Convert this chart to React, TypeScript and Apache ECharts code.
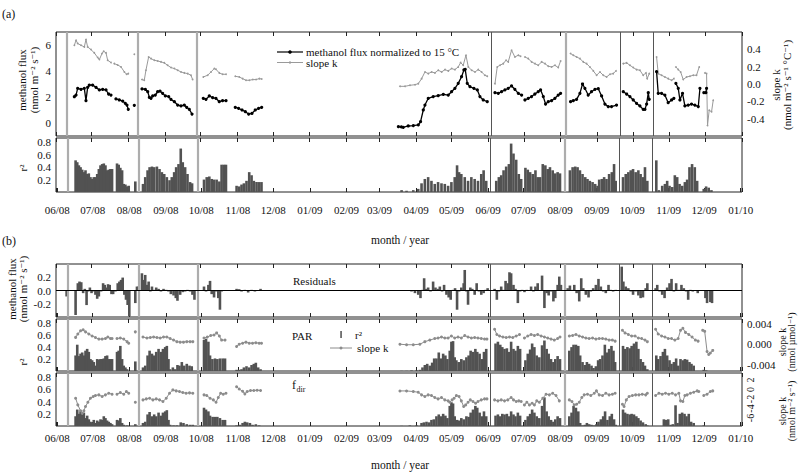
import React, { useEffect, useRef } from 'react';
import * as echarts from 'echarts';

const FONT = "'Liberation Serif', 'DejaVu Serif', serif";

// x tick labels (month / year)
const monthLabels = ['06/08', '07/08', '08/08', '09/08', '10/08', '11/08', '12/08', '01/09', '02/09', '03/09', '04/09', '05/09', '06/09', '07/09', '08/09', '09/09', '10/09', '11/09', '12/09', '01/10'];

// days since 2008-06-01 of the vertical separator lines, and whether they are dark/thin
const sepDays = [9, 69, 119, 367, 430, 476, 504];
const sepDark = [false, false, false, true, false, true, true];

// (a) methanol flux normalized to 15 °C, segments of [day, value]
const fluxSegs: number[][][] = [
  [[15.5, 2.02], [16.9, 2.15], [18.3, 2.67], [21.1, 2.59], [23.9, 2.67], [25.3, 1.72], [26.7, 2.74], [28.1, 2.92], [30.9, 2.92], [33.8, 2.74], [36.6, 2.54], [39.4, 2.59], [42.2, 2.54], [44.4, 2.23], [46.4, 2.15]],
  [[50.6, 1.85], [53.4, 1.77], [56.3, 1.69], [58.5, 1.51], [59.9, 1.38], [61.0, 1.05]],
  [[66.1, 1.36]],
  [[72.6, 2.62], [75.4, 2.59], [77.4, 2.41], [78.8, 1.97], [80.2, 1.9], [81.6, 2.08], [83.8, 2.15], [85.8, 2.41], [87.8, 2.46], [90.0, 2.28], [92.3, 2.08], [95.1, 2.03], [97.0, 1.82], [99.9, 1.64], [102.7, 1.38], [105.5, 1.31], [108.3, 1.38], [110.3, 1.21], [112.5, 1.05], [114.8, 0.69]],
  [[124.3, 1.9], [126.6, 1.82], [129.4, 2.08], [132.2, 1.95], [135.0, 1.9], [137.8, 1.64], [140.6, 1.72], [143.5, 1.72]],
  [[151.3, 1.21], [154.1, 1.13], [157.0, 1.0], [159.8, 0.87], [162.6, 0.69], [165.4, 0.74], [168.2, 1.0], [171.0, 1.13], [173.6, 1.21]],
  [[289.0, -0.28], [291.5, -0.3], [293.1, -0.33], [297.3, -0.23], [301.6, -0.2], [305.8, -0.15], [307.7, 0.1], [310.0, 1.0], [311.4, 1.38], [314.2, 1.9], [318.4, 2.03], [322.6, 2.1], [326.9, 2.21], [331.1, 2.15], [333.9, 2.41], [336.7, 2.67], [339.5, 3.05], [342.3, 3.56], [344.3, 4.08], [345.4, 4.13], [347.1, 3.05], [349.4, 2.79], [352.7, 2.67], [355.6, 2.54], [357.8, 2.03], [360.6, 1.77], [364.0, 1.64]],
  [[370.5, 2.33], [373.3, 2.28], [376.1, 2.41], [378.9, 2.54], [381.7, 2.67], [384.5, 2.85], [387.3, 2.59], [390.2, 2.28], [393.0, 2.15]],
  [[395.8, 1.77], [398.6, 1.9], [401.4, 2.03], [404.2, 2.23], [407.0, 2.41], [409.0, 2.54], [411.3, 2.03], [413.2, 1.46], [415.5, 1.64], [418.3, 1.72], [421.1, 1.9], [423.9, 2.15], [425.9, 2.28]],
  [[434.3, 1.64], [436.6, 1.72], [439.4, 1.82], [442.2, 2.28], [444.4, 3.0], [446.4, 2.67], [449.2, 2.15], [452.0, 2.41], [454.9, 2.59], [457.7, 2.64], [460.5, 2.08], [463.3, 1.46], [466.1, 1.26], [468.9, 1.26], [473.1, 1.38]],
  [[478.8, 2.41], [481.6, 2.23], [484.4, 2.03], [487.2, 1.77], [490.0, 1.51], [492.8, 1.31], [495.6, 1.05], [497.1, 1.05], [498.5, 1.46], [499.9, 2.33], [500.7, 1.82]],
  [[506.9, 3.95], [508.3, 2.28], [511.1, 2.28], [513.9, 2.15], [516.7, 1.56], [519.6, 1.77], [521.5, 1.9]],
  [[523.2, 3.05], [525.2, 2.67], [526.6, 1.77], [528.8, 2.28], [530.8, 1.31], [533.6, 1.38], [536.4, 1.46], [539.2, 1.38], [542.1, 1.26], [543.5, 2.67]],
  [[546.8, 2.33], [548.5, 2.33], [549.1, 2.67]],
];

// (a) slope k (nmol m-2 s-1 °C-1)
const slopeSegs: number[][][] = [
  [[15.5, 0.447], [16.9, 0.505], [18.3, 0.467], [21.1, 0.447], [23.9, 0.428], [25.3, 0.513], [26.7, 0.428], [29.5, 0.397], [32.3, 0.359], [35.2, 0.305], [36.6, 0.282], [38.8, 0.351], [40.2, 0.378], [42.2, 0.359], [43.6, 0.274], [46.4, 0.247]],
  [[49.2, 0.235], [52.0, 0.22], [54.9, 0.197], [57.7, 0.139], [59.6, 0.112], [61.0, 0.12]],
  [[66.1, 0.343]],
  [[72.6, 0.051], [74.5, 0.043], [75.9, 0.159], [78.2, 0.312], [80.2, 0.293], [83.0, 0.274], [85.8, 0.266], [88.6, 0.255], [91.4, 0.244], [94.2, 0.216], [97.0, 0.19], [99.9, 0.178], [102.7, 0.159], [105.5, 0.139], [108.3, 0.128], [111.1, 0.12], [113.9, 0.101], [115.3, 0.051]],
  [[124.3, 0.081], [128.0, 0.101], [130.8, 0.139], [133.6, 0.178], [135.0, 0.17], [137.8, 0.128], [140.6, 0.112], [143.5, 0.112]],
  [[151.3, 0.089], [154.7, 0.081], [157.5, 0.062], [160.3, 0.043], [163.2, 0.043], [166.0, 0.051], [168.8, 0.051], [171.6, 0.062], [173.6, 0.058]],
  [[290.3, -0.027], [294.5, -0.027], [298.7, -0.015], [303.0, -0.008], [305.8, 0.004], [308.6, 0.062], [311.4, 0.139], [314.2, 0.12], [317.0, 0.139], [319.8, 0.128], [322.6, 0.159], [325.5, 0.139], [328.3, 0.166], [331.1, 0.151], [333.9, 0.178], [336.7, 0.166], [339.5, 0.197], [341.5, 0.247], [343.7, 0.216], [346.0, 0.332], [348.0, 0.197], [350.8, 0.159], [353.6, 0.139], [356.4, 0.166], [359.2, 0.139], [362.0, 0.101], [364.0, 0.089]],
  [[370.5, 0.004], [372.4, 0.197], [374.7, 0.216], [377.5, 0.235], [379.8, 0.274], [381.7, 0.255], [384.5, 0.39], [387.3, 0.312], [390.2, 0.332], [392.1, 0.32]],
  [[395.8, 0.312], [398.6, 0.293], [401.4, 0.255], [404.2, 0.235], [407.0, 0.216], [409.9, 0.255], [412.7, 0.235], [415.5, 0.205], [418.3, 0.197], [421.1, 0.216], [423.9, 0.19], [425.9, 0.266]],
  [[434.3, 0.351], [436.6, 0.332], [439.4, 0.312], [442.2, 0.293], [445.0, 0.255], [447.8, 0.235], [450.6, 0.197], [453.5, 0.151], [456.3, 0.101], [459.1, 0.139], [461.9, 0.101], [464.7, 0.081], [467.5, 0.112], [470.3, 0.12], [472.6, 0.151]],
  [[478.8, 0.235], [481.6, 0.244], [484.4, 0.216], [487.2, 0.19], [490.0, 0.166], [492.8, 0.159], [495.6, 0.101], [497.9, 0.128], [499.0, 0.062], [500.7, 0.12]],
  [[506.9, 0.312], [508.3, 0.12], [511.1, 0.101], [513.9, 0.081], [516.7, 0.062], [519.6, 0.043], [521.5, 0.062]],
  [[523.2, 0.197], [525.2, 0.166], [527.2, 0.139], [529.4, 0.051], [532.2, 0.081], [535.0, 0.089], [537.8, 0.101], [540.6, 0.101], [542.9, 0.197]],
  [[547.7, 0.128], [549.1, 0.12], [549.9, -0.478], [551.3, -0.303], [553.3, -0.32], [554.7, -0.188]],
];

// (a) r² of the temperature fit
const r2Temp: number[][] = [
  [15.5, 0.51], [16.9, 0.48], [18.3, 0.43], [19.7, 0.40], [21.1, 0.36], [22.5, 0.32], [23.9, 0.35], [25.3, 0.29], [26.7, 0.30], [28.1, 0.24], [29.5, 0.21], [30.9, 0.24], [32.3, 0.24], [33.8, 0.29], [35.2, 0.37], [36.6, 0.43], [38.0, 0.45], [39.4, 0.46], [40.8, 0.43], [42.2, 0.35], [43.6, 0.36], [45.0, 0.37], [46.4, 0.37], [50.6, 0.46], [52.0, 0.44], [53.4, 0.39], [54.9, 0.35], [56.3, 0.13], [57.7, 0.12], [59.1, 0.09], [60.5, 0.1], [66.1, 0.17],
  [72.6, 0.13], [74.5, 0.24], [76.5, 0.35], [78.2, 0.40], [80.2, 0.41], [82.1, 0.40], [84.4, 0.41], [86.6, 0.37], [88.6, 0.32], [90.6, 0.29], [92.8, 0.24], [95.1, 0.19], [97.0, 0.24], [99.0, 0.32], [100.7, 0.40], [102.7, 0.45], [104.6, 0.70], [106.3, 0.48], [108.3, 0.40], [110.3, 0.29], [112.5, 0.16], [114.2, 0.14],
  [124.3, 0.2], [126.6, 0.24], [128.8, 0.25], [130.8, 0.21], [132.8, 0.2], [135.0, 0.2], [137.3, 0.17], [139.2, 0.44], [141.2, 0.44], [142.9, 0.44],
  [151.9, 0.1], [154.1, 0.09], [156.1, 0.12], [158.1, 0.14], [160.3, 0.18], [162.6, 0.32], [164.6, 0.27], [166.5, 0.18], [168.8, 0.16], [171.0, 0.16], [173.0, 0.16],
  [291.7, 0.03], [295.9, 0.02], [301.6, 0.03], [305.8, 0.05], [308.6, 0.14], [311.4, 0.21], [314.2, 0.24], [317.0, 0.18], [319.8, 0.13], [322.6, 0.16], [325.5, 0.14], [328.3, 0.13], [331.1, 0.1], [333.9, 0.16], [336.7, 0.24], [338.7, 0.43], [340.4, 0.32], [342.3, 0.29], [345.2, 0.24], [348.0, 0.18], [350.8, 0.24], [353.6, 0.21], [356.4, 0.18], [359.2, 0.29], [361.2, 0.35], [363.4, 0.18],
  [371.9, 0.18], [374.1, 0.24], [376.1, 0.27], [378.1, 0.35], [380.3, 0.41], [382.6, 0.45], [384.5, 0.78], [386.5, 0.62], [388.8, 0.52], [391.0, 0.29], [393.0, 0.21],
  [396.6, 0.39], [398.6, 0.36], [400.6, 0.32], [402.8, 0.29], [405.1, 0.35], [407.0, 0.24], [409.0, 0.24], [411.3, 0.45], [413.5, 0.43], [415.5, 0.37], [417.4, 0.40], [419.7, 0.35], [421.9, 0.30], [423.9, 0.32], [425.9, 0.30],
  [434.3, 0.35], [436.6, 0.40], [438.8, 0.41], [440.8, 0.40], [442.8, 0.35], [445.0, 0.29], [447.3, 0.24], [449.2, 0.21], [451.2, 0.18], [453.5, 0.16], [455.7, 0.13], [457.7, 0.1], [459.1, 0.2], [461.3, 0.21], [463.3, 0.24], [465.3, 0.21], [467.5, 0.29], [469.8, 0.32], [471.7, 0.45], [473.1, 0.18],
  [479.3, 0.24], [481.6, 0.29], [483.8, 0.32], [485.8, 0.35], [487.8, 0.37], [490.0, 0.32], [492.3, 0.35], [494.2, 0.29], [496.2, 0.24], [497.9, 0.40], [499.9, 0.18],
  [507.5, 0.51], [509.7, 0.03], [512.5, 0.1], [514.8, 0.13], [516.7, 0.18], [518.7, 0.1], [521.0, 0.08], [523.2, 0.27], [525.2, 0.24], [527.2, 0.13], [529.4, 0.1], [531.7, 0.16], [533.6, 0.2], [535.6, 0.40], [537.8, 0.45], [540.1, 0.40], [542.1, 0.18], [547.7, 0.05], [549.7, 0.09], [551.9, 0.07], [554.2, 0.03],
];

// (b) residuals
const residuals: number[][] = [
  [7.9, -0.09],
  [15.5, -0.37], [17.4, 0.11], [18.8, 0.135], [20.3, 0.125], [21.9, -0.04], [23.3, 0.025], [24.8, -0.22], [26.2, -0.015], [27.6, 0.045], [29.0, -0.04], [30.4, -0.015], [32.3, -0.065], [33.8, -0.125], [35.2, -0.09], [37.1, -0.015], [38.8, 0.11], [40.2, 0.085], [41.6, 0.045], [43.0, 0.095], [44.4, 0.085], [45.9, -0.055], [47.3, -0.055], [49.2, -0.015], [51.2, 0.11], [52.6, 0.135], [54.0, 0.16], [55.4, 0.195], [56.8, -0.065], [58.2, -0.14], [59.6, -0.22], [61.0, -0.39], [66.1, -0.19],
  [67.5, 0.06], [68.9, 0.06],
  [71.7, 0.26], [73.1, 0.16], [74.5, 0.235], [75.9, 0.085], [77.4, 0.135], [78.8, -0.015], [80.2, 0.06], [81.6, 0.01], [83.8, 0.045], [85.8, 0.025], [87.8, -0.015], [90.0, 0.025], [92.3, 0.01], [94.2, -0.015], [96.2, -0.055], [98.5, -0.075], [100.4, -0.115], [101.8, -0.155], [104.1, -0.065], [106.3, -0.025], [108.3, -0.015], [110.3, 0.01], [112.5, -0.015], [114.5, -0.065], [116.2, -0.14],
  [124.3, 0.06], [126.0, -0.015], [128.0, 0.085], [129.4, 0.145], [130.8, -0.055], [132.8, -0.105], [134.5, -0.015], [136.4, -0.115], [137.8, -0.29], [139.2, -0.015], [140.6, 0.005], [143.5, 0.005],
  [151.9, 0.025], [154.1, 0.02], [156.1, -0.015], [158.9, 0.01], [161.7, -0.03], [164.6, 0.01], [167.4, -0.015], [170.2, 0.005], [172.2, 0.025],
  [291.7, 0.005], [295.9, 0.005], [300.1, -0.015], [303.0, -0.04], [305.8, -0.065], [307.7, -0.115], [309.4, 0.01], [310.8, 0.185], [312.2, 0.025], [314.2, 0.045], [316.2, -0.015], [318.4, 0.135], [320.4, 0.045], [322.4, 0.025], [324.1, 0.06], [326.0, -0.015], [327.7, 0.085], [329.7, -0.065], [331.6, -0.105], [333.3, -0.14], [335.3, 0.01], [337.0, 0.035], [338.7, -0.29], [340.4, -0.015], [342.3, 0.045], [344.3, 0.11], [345.2, 0.31], [346.6, -0.015], [348.0, -0.215], [349.9, 0.045], [351.6, 0.025], [353.6, -0.065], [355.3, 0.11], [357.2, -0.015], [359.2, -0.065], [361.2, -0.04], [362.9, 0.01], [364.6, 0.035],
  [370.5, 0.025], [372.4, -0.14], [374.1, -0.015], [376.1, 0.06], [378.1, 0.01], [379.8, 0.145], [381.7, 0.11], [383.1, 0.275], [384.5, 0.26], [386.5, 0.085], [388.2, 0.025], [390.2, -0.19], [392.1, -0.015], [393.8, 0.01], [395.8, -0.025], [397.8, 0.01], [399.4, -0.005], [401.4, 0.06], [403.4, -0.015], [405.1, 0.06], [407.0, 0.11], [409.0, -0.005], [410.7, 0.225], [412.7, -0.265], [414.6, -0.04], [416.3, -0.075], [418.3, -0.015], [420.3, -0.165], [421.9, -0.115], [423.9, 0.085], [425.3, 0.21], [426.7, 0.085],
  [432.4, 0.035], [434.3, 0.075], [436.0, 0.01], [438.0, 0.085], [440.0, -0.04], [442.2, -0.165], [443.9, 0.185], [445.6, 0.035], [447.8, -0.065], [450.1, -0.105], [452.0, -0.015], [454.0, 0.035], [456.3, 0.085], [458.5, 0.175], [460.5, 0.06], [462.5, -0.015], [464.7, -0.04], [467.0, 0.085], [468.9, 0.01], [470.9, -0.015], [473.1, 0.01],
  [478.2, 0.36], [479.6, 0.135], [481.6, 0.06], [483.8, 0.035], [485.8, -0.015], [487.8, -0.065], [490.0, -0.015], [492.3, -0.075], [494.2, -0.115], [496.2, -0.105], [498.5, 0.035], [499.9, 0.11],
  [506.9, 0.035], [508.3, 0.085], [510.3, -0.015], [512.5, -0.065], [514.5, -0.115], [516.7, 0.045], [518.7, 0.11], [520.4, 0.175], [522.4, -0.015], [524.3, 0.11], [526.6, 0.01], [528.8, 0.085], [530.8, 0.035], [532.8, -0.015], [534.5, -0.14], [536.4, 0.01], [538.4, -0.015], [540.6, -0.005], [542.6, -0.04], [549.1, -0.115], [550.5, -0.19], [553.3, -0.175], [554.7, -0.19],
];

// (b) r² for PAR
const r2Par: number[][] = [
  [15.5, 0.26], [16.9, 0.44], [18.3, 0.25], [19.7, 0.29], [21.1, 0.31], [22.5, 0.26], [23.9, 0.34], [25.3, 0.37], [26.7, 0.32], [28.1, 0.2], [29.5, 0.18], [30.9, 0.15], [32.3, 0.09], [33.8, 0.2], [35.2, 0.19], [36.6, 0.2], [38.0, 0.2], [39.4, 0.21], [40.8, 0.25], [42.2, 0.26], [43.6, 0.2], [45.0, 0.2], [46.4, 0.2], [50.6, 0.32], [52.0, 0.34], [53.4, 0.42], [54.9, 0.2], [56.3, 0.09], [57.7, 0.06], [59.1, 0.03], [66.1, 0.16],
  [72.6, 0.06], [74.5, 0.09], [76.5, 0.26], [78.2, 0.34], [80.2, 0.29], [82.1, 0.26], [83.8, 0.32], [85.8, 0.37], [87.8, 0.32], [89.5, 0.37], [91.4, 0.40], [92.8, 0.42], [94.2, 0.2], [95.6, 0.03], [97.9, 0.06], [99.9, 0.03], [101.8, 0.1], [103.5, 0.09], [105.5, 0.15], [107.5, 0.09], [109.7, 0.12], [112.0, 0.09], [113.9, 0.08],
  [124.3, 0.52], [126.0, 0.54], [128.0, 0.49], [129.4, 0.26], [131.4, 0.2], [133.6, 0.21], [135.6, 0.2], [137.8, 0.21], [140.1, 0.21], [142.1, 0.21],
  [151.9, 0.02], [154.1, 0.02], [156.1, 0.03], [158.1, 0.06], [160.3, 0.08], [162.6, 0.06], [164.6, 0.1], [166.5, 0.12], [168.2, 0.14], [170.2, 0.06], [172.2, 0.03],
  [291.7, 0.003], [295.9, 0.003], [300.1, 0.01], [304.4, 0.01], [307.2, 0.02], [309.4, 0.06], [311.4, 0.1], [313.4, 0.12], [315.6, 0.09], [317.6, 0.14], [319.3, 0.21], [321.2, 0.21], [323.2, 0.31], [324.9, 0.21], [326.9, 0.29], [328.8, 0.26], [330.5, 0.2], [332.5, 0.34], [333.9, 0.49], [335.3, 0.50], [336.7, 0.23], [338.1, 0.18], [340.1, 0.15], [342.3, 0.2], [344.3, 0.18], [346.6, 0.23], [348.5, 0.26], [350.2, 0.34], [352.2, 0.32], [354.2, 0.37], [355.8, 0.32], [357.8, 0.29], [359.8, 0.2], [361.5, 0.32], [363.4, 0.37],
  [371.3, 0.46], [373.3, 0.49], [375.3, 0.44], [377.0, 0.40], [378.9, 0.37], [380.9, 0.38], [382.6, 0.32], [384.5, 0.49], [386.5, 0.37], [388.2, 0.34], [390.2, 0.42], [392.1, 0.37],
  [396.6, 0.18], [398.6, 0.29], [400.6, 0.36], [402.3, 0.46], [404.2, 0.40], [406.2, 0.26], [408.4, 0.23], [410.7, 0.43], [412.7, 0.51], [414.6, 0.37], [416.3, 0.29], [418.3, 0.2], [420.3, 0.15], [421.9, 0.2], [423.9, 0.25], [425.9, 0.2],
  [433.8, 0.34], [435.7, 0.40], [437.4, 0.44], [439.4, 0.44], [441.4, 0.42], [443.0, 0.26], [445.0, 0.15], [447.0, 0.1], [448.7, 0.15], [450.6, 0.12], [452.6, 0.09], [454.3, 0.05], [456.3, 0.08], [458.2, 0.18], [459.9, 0.2], [461.9, 0.26], [463.9, 0.44], [465.6, 0.31], [467.5, 0.37], [469.5, 0.42], [471.2, 0.34], [472.6, 0.15],
  [479.3, 0.42], [481.0, 0.37], [483.0, 0.40], [485.0, 0.38], [486.6, 0.42], [488.6, 0.46], [490.6, 0.49], [492.3, 0.37], [494.2, 0.2], [496.2, 0.15], [497.9, 0.09], [499.9, 0.03],
  [507.5, 0.26], [509.1, 0.2], [511.1, 0.25], [513.1, 0.32], [514.8, 0.37], [516.7, 0.26], [518.7, 0.18], [520.4, 0.12], [522.4, 0.15], [524.3, 0.21], [526.0, 0.09], [528.0, 0.2], [530.0, 0.18], [531.7, 0.2], [533.6, 0.19], [535.6, 0.15], [537.3, 0.12], [539.2, 0.09], [547.7, 0.02], [549.7, 0.01],
];

// (b) slope k for PAR (nmol µmol-1)
const slopePar: number[][][] = [
  [[15.5, 0.00133], [17.4, 0.002], [19.7, 0.0026], [21.9, 0.0028], [23.9, 0.0024], [26.7, 0.002], [29.5, 0.0016], [32.3, 0.0013], [35.2, 0.001], [38.0, 0.001], [40.8, 0.0011], [42.8, 0.0014], [45.0, 0.0011], [46.4, 0.0011]],
  [[50.6, 0.0011], [53.4, 0.0012], [56.3, 0.001], [59.1, 0.0005], [60.5, 0.0002]],
  [[66.1, 0.0024]],
  [[72.6, 0.0014], [75.9, 0.0012], [78.8, 0.0013], [81.6, 0.0014], [84.4, 0.0013], [87.2, 0.0012], [90.0, 0.0014], [92.8, 0.0014], [95.6, 0.0011], [98.5, 0.0008], [101.3, 0.0005], [104.1, 0.0004], [106.9, 0.0004], [109.7, 0.0005], [112.5, 0.0005], [114.8, 0.0005]],
  [[124.3, 0.0012], [127.1, 0.0014], [130.0, 0.0017], [132.8, 0.0018], [135.0, 0.0022], [137.3, 0.0016], [139.2, 0.0008], [142.1, 0.0008]],
  [[151.9, -0.00044], [154.1, 0.0], [157.0, 0.0002], [159.8, 0.0004], [162.6, 0.0002], [165.4, 0.0002], [168.2, 0.0003], [171.0, 0.0002], [173.0, 0.0002]],
  [[290.3, 0.0], [295.9, -0.0001], [301.6, -0.0001], [307.2, 0.0], [311.4, 0.0005], [315.6, 0.0008], [319.8, 0.0011], [322.6, 0.0012], [325.5, 0.0014], [328.3, 0.0012], [331.1, 0.0012], [333.9, 0.0016], [336.7, 0.0012], [339.5, 0.0014], [342.3, 0.0012], [345.2, 0.0017], [348.0, 0.0014], [350.8, 0.0012], [353.6, 0.0013], [356.4, 0.0012], [359.2, 0.0011], [362.0, 0.001], [364.0, 0.001]],
  [[370.5, 0.0029], [372.4, 0.0019], [374.7, 0.0016], [377.5, 0.0014], [380.3, 0.0013], [383.1, 0.0014], [385.9, 0.0013], [388.8, 0.0016], [391.6, 0.0019]],
  [[395.8, 0.0012], [398.6, 0.0016], [401.4, 0.0019], [404.2, 0.0017], [407.0, 0.0019], [409.9, 0.0016], [412.7, 0.0014], [415.5, 0.0012], [418.3, 0.001], [421.1, 0.0008], [423.9, 0.0011], [425.9, 0.0014]],
  [[433.8, 0.0016], [436.6, 0.0017], [439.4, 0.0019], [442.2, 0.0016], [445.0, 0.0014], [447.8, 0.0012], [450.6, 0.0011], [453.5, 0.0012], [456.3, 0.001], [459.1, 0.0011], [461.9, 0.0011], [464.7, 0.001], [467.5, 0.0008], [470.3, 0.0008], [472.6, 0.0006]],
  [[478.8, 0.0027], [481.0, 0.0022], [483.8, 0.0019], [486.6, 0.0016], [489.5, 0.0016], [492.3, 0.0012], [495.1, 0.0011], [497.9, 0.0008], [499.9, 0.0005]],
  [[506.9, 0.0029], [509.1, 0.002], [512.0, 0.0016], [514.8, 0.0014], [517.6, 0.0011], [520.4, 0.0011], [523.2, 0.0008], [526.0, 0.0011], [528.0, 0.0027], [530.0, 0.0031], [532.2, 0.0023], [535.0, 0.0019], [537.8, 0.0014], [540.6, 0.0008], [542.9, 0.0006]],
  [[546.8, 0.0027], [548.5, 0.0025], [550.5, -0.0014], [551.9, -0.002], [553.3, -0.0017], [555.3, -0.0012]],
];

// (b) r² for f_dir
const r2Fdir: number[][] = [
  [15.5, 0.16], [16.9, 0.27], [18.3, 0.2], [19.7, 0.24], [21.1, 0.19], [22.5, 0.22], [23.9, 0.13], [25.3, 0.17], [26.7, 0.11], [28.1, 0.07], [29.5, 0.06], [30.9, 0.1], [32.3, 0.05], [33.8, 0.09], [35.2, 0.07], [36.6, 0.11], [38.0, 0.1], [39.4, 0.16], [40.8, 0.13], [42.2, 0.09], [43.6, 0.07], [45.0, 0.05], [46.4, 0.03], [50.6, 0.1], [52.0, 0.09], [53.4, 0.13], [54.9, 0.05], [56.3, 0.02], [59.1, 0.01], [66.1, 0.03],
  [72.6, 0.05], [74.5, 0.07], [76.5, 0.19], [78.2, 0.23], [80.2, 0.16], [82.1, 0.19], [83.8, 0.16], [85.8, 0.22], [87.8, 0.17], [89.5, 0.22], [91.4, 0.24], [92.8, 0.26], [94.2, 0.1], [95.6, 0.02], [98.5, 0.01], [101.3, 0.01], [104.6, 0.06], [106.9, 0.05], [109.7, 0.03], [112.5, 0.02], [114.8, 0.02],
  [124.3, 0.3], [126.0, 0.27], [128.0, 0.24], [129.4, 0.17], [131.6, 0.15], [133.6, 0.15], [135.6, 0.15], [137.8, 0.13], [140.1, 0.1], [142.1, 0.1],
  [151.9, 0.01], [154.7, 0.02], [157.0, 0.05], [158.9, 0.07], [160.9, 0.06], [163.2, 0.05], [165.4, 0.02], [168.2, 0.03], [171.0, 0.01],
  [291.7, 0.003], [298.7, 0.01], [304.4, 0.01], [308.6, 0.05], [310.6, 0.06], [312.8, 0.07], [315.0, 0.06], [317.0, 0.1], [319.0, 0.11], [321.2, 0.16], [323.2, 0.19], [324.9, 0.16], [326.9, 0.2], [328.8, 0.17], [330.5, 0.13], [332.5, 0.33], [333.9, 0.39], [335.3, 0.37], [336.7, 0.16], [338.7, 0.1], [340.4, 0.09], [342.3, 0.13], [344.3, 0.11], [346.6, 0.16], [348.5, 0.15], [350.2, 0.22], [352.2, 0.27], [354.2, 0.33], [355.8, 0.3], [357.8, 0.22], [359.8, 0.16], [361.5, 0.24], [363.4, 0.16],
  [371.3, 0.17], [373.3, 0.19], [375.3, 0.16], [377.0, 0.2], [378.9, 0.19], [380.9, 0.2], [382.6, 0.16], [384.5, 0.24], [386.5, 0.19], [388.2, 0.16], [390.2, 0.22], [392.1, 0.17],
  [396.6, 0.1], [398.6, 0.16], [400.6, 0.2], [402.3, 0.27], [404.2, 0.22], [406.2, 0.16], [408.4, 0.13], [410.7, 0.33], [412.7, 0.47], [414.6, 0.24], [416.3, 0.16], [418.3, 0.1], [420.3, 0.07], [421.9, 0.11], [423.9, 0.16], [425.9, 0.13],
  [433.8, 0.16], [435.7, 0.22], [437.4, 0.33], [439.4, 0.3], [441.4, 0.24], [443.0, 0.05], [445.0, 0.01], [447.0, 0.02], [448.7, 0.05], [450.6, 0.03], [452.6, 0.02], [454.9, 0.01], [456.8, 0.03], [458.5, 0.07], [460.5, 0.11], [462.5, 0.16], [464.1, 0.24], [466.1, 0.1], [468.1, 0.16], [469.8, 0.2], [471.7, 0.11], [473.1, 0.02],
  [479.3, 0.27], [481.0, 0.22], [483.0, 0.2], [485.0, 0.19], [486.6, 0.2], [488.6, 0.19], [490.6, 0.16], [492.3, 0.13], [494.2, 0.09], [496.2, 0.06], [498.5, 0.03], [499.9, 0.01],
  [513.9, 0.11], [515.9, 0.1], [517.6, 0.11], [519.6, 0.02], [521.5, 0.03], [523.8, 0.34], [525.5, 0.05], [527.4, 0.2], [529.4, 0.22], [531.4, 0.2], [533.1, 0.16], [535.0, 0.2], [537.0, 0.07], [539.2, 0.05], [547.7, 0.01],
];

// (b) slope k for f_dir (nmol m-2 s-1)
const slopeFdir: number[][][] = [
  [[15.5, -1.83], [17.4, -3.24], [19.7, -4.5], [21.1, -5.0], [22.5, -4.5], [23.9, -3.59], [25.9, -2.67], [28.1, -1.83], [30.4, -1.48], [32.3, -1.26], [35.2, -1.12], [38.0, -1.48], [40.8, -1.12], [43.6, -0.77], [46.4, -0.98]],
  [[50.6, -0.98], [53.4, -0.63], [56.3, -0.98], [58.5, -0.42], [60.5, -0.77]],
  [[66.1, -2.67]],
  [[72.6, -2.18], [75.4, -1.97], [78.2, -1.83], [81.0, -2.18], [83.8, -1.97], [86.6, -2.18], [89.5, -2.53], [92.3, -1.83], [95.1, -0.77], [97.9, -0.07], [100.7, -0.28], [103.5, -0.42], [106.3, -0.63], [109.1, -0.77], [112.0, -0.7], [114.8, -0.77]],
  [[124.3, -1.12], [126.6, -1.26], [129.4, -1.83], [132.2, -2.18], [134.5, -2.67], [136.4, -1.68], [138.4, -0.77], [140.6, -0.98], [142.9, -0.77]],
  [[151.9, 0.61], [154.1, 0.12], [157.0, -0.35], [158.9, -0.91], [160.9, -0.42], [163.7, -0.21], [166.5, -0.21], [169.3, -0.14], [172.2, -0.21]],
  [[290.3, -0.29], [295.9, -0.29], [301.6, -0.42], [305.8, -0.56], [308.6, -1.12], [311.4, -1.47], [314.2, -1.12], [317.0, -1.26], [319.8, -1.68], [322.6, -1.97], [325.5, -1.68], [328.3, -2.18], [331.1, -2.39], [332.5, -2.67], [334.5, -2.18], [336.2, -1.83], [338.1, -1.26], [340.4, -1.47], [342.3, -2.39], [344.3, -3.59], [346.0, -3.24], [348.0, -2.67], [349.9, -2.18], [352.2, -2.53], [354.4, -2.88], [356.4, -2.53], [359.2, -2.18], [362.0, -1.97], [364.0, -1.97]],
  [[370.5, -2.18], [373.3, -2.39], [376.1, -2.18], [378.9, -2.39], [381.7, -2.18], [384.5, -1.68], [386.5, -2.18], [388.8, -2.53], [391.0, -2.39], [393.0, -2.53]],
  [[395.8, -3.24], [397.8, -2.67], [400.0, -3.24], [402.3, -2.88], [404.2, -3.24], [406.2, -2.39], [408.4, -2.67], [411.3, -1.83], [414.1, -0.98], [416.9, -1.12], [419.7, -0.77], [422.5, -1.26], [425.3, -2.39]],
  [[433.8, -2.18], [436.0, -2.53], [438.0, -3.24], [440.0, -3.1], [442.2, -2.67], [444.4, -1.68], [446.4, -1.12], [449.2, -0.98], [452.0, -1.26], [454.9, -0.77], [456.8, -0.28], [459.1, -1.12], [461.9, -1.26], [464.7, -0.77], [467.5, -1.12], [470.3, -0.98], [472.6, -0.77]],
  [[478.8, -3.1], [480.2, -3.59], [482.1, -2.18], [484.4, -1.47], [487.2, -1.26], [490.0, -1.12], [492.8, -1.12], [495.6, -0.98], [498.5, -1.12], [499.9, -0.77]],
  [[506.9, -1.26], [509.7, -0.77], [512.5, -0.98], [515.3, -0.77], [518.1, -0.98], [521.0, -0.77], [523.8, -1.12], [526.6, -0.77], [528.0, -2.39], [530.0, -2.53], [531.7, -1.26], [533.6, -1.12], [536.4, -0.77], [539.2, -0.56], [542.1, -0.28], [543.5, -0.42]],
  [[547.7, -1.26], [550.5, -0.98], [553.3, -0.42], [555.3, -0.28]],
];

const BASE = new Date(2008, 5, 1).getTime();
const DAY = 86400000;
const T = (d: number) => BASE + d * DAY;
const XMIN = new Date(2008, 5, 1).getTime();
const XMAX = new Date(2010, 0, 1).getTime();

function lineData(segs: number[][][]) {
  const out: any[] = [];
  segs.forEach((s, i) => {
    if (i > 0) {
      const prev = segs[i - 1][segs[i - 1].length - 1][0];
      out.push([T((prev + s[0][0]) / 2), '-']);
    }
    s.forEach((p) => out.push([T(p[0]), p[1]]));
  });
  return out;
}
const barData = (arr: number[][]) => arr.map((p) => [T(p[0]), p[1]]);

const monthFmt = (v: number) => {
  const d = new Date(v);
  const idx = (d.getFullYear() - 2008) * 12 + d.getMonth() - 5;
  if (d.getDate() !== 1) return '';
  return monthLabels[idx] ?? '';
};

const GRIDS = [
  { top: 32, height: 104 },
  { top: 138, height: 54 },
  { top: 264, height: 53 },
  { top: 319, height: 52 },
  { top: 373, height: 53 },
];

const tickStyle = { inside: true, length: 4, lineStyle: { color: '#222', width: 1 } };
const labelBase = { fontFamily: FONT, fontSize: 11, color: '#111' };

function makeFmt(min: number, max: number, step: number, digits: number, hideZero = false) {
  return (v: number) => {
    if (Math.abs(v - min) < 1e-9 || Math.abs(v - max) < 1e-9) return '';
    const k = v / step;
    if (Math.abs(k - Math.round(k)) > 1e-6) return '';
    if (hideZero && Math.abs(v) < 1e-9) return '';
    return (Math.abs(v) < 1e-12 ? 0 : v).toFixed(digits);
  };
}

function yAx(gridIndex: number, position: 'left' | 'right', min: number, max: number, step: number, digits: number, show: boolean, hideZero = false, labelExtra: any = {}) {
  return {
    type: 'value', gridIndex, position, min, max, splitNumber: 5,
    axisLine: { show: false, onZero: false }, splitLine: { show: false }, axisTick: tickStyle,
    axisLabel: { ...labelBase, show, margin: 5, formatter: makeFmt(min, max, step, digits, hideZero), ...labelExtra },
  };
}

function buildOption() {
  const grid = GRIDS.map((g) => ({ left: 56, right: 58, top: g.top, height: g.height, show: true, borderColor: '#222', borderWidth: 1, backgroundColor: 'rgba(0,0,0,0)' }));
  const xAxis: any[] = [];
  GRIDS.forEach((g, i) => {
    const showLabel = i === 1 || i === 4;
    xAxis.push({
      type: 'time', gridIndex: i, position: 'bottom', min: XMIN, max: XMAX, splitNumber: 15,
      axisLine: { show: false, onZero: false }, splitLine: { show: false }, axisTick: tickStyle,
      axisLabel: { ...labelBase, show: showLabel, margin: i === 1 ? 12 : 6, hideOverlap: false, showMinLabel: true, showMaxLabel: true, formatter: monthFmt },
    });
    xAxis.push({
      type: 'time', gridIndex: i, position: 'top', min: XMIN, max: XMAX, splitNumber: 15,
      axisLine: { show: false, onZero: false }, splitLine: { show: false }, axisTick: tickStyle, axisLabel: { show: false },
    });
  });
  const yAxis = [
    yAx(0, 'left', -1, 7, 2, 0, true),
    yAx(0, 'right', -0.6, 0.6, 0.2, 1, true),
    yAx(1, 'left', 0, 0.87, 0.2, 1, true, true),
    yAx(1, 'right', 0, 0.87, 0.2, 1, false),
    yAx(2, 'left', -0.4, 0.4, 0.2, 1, true),
    yAx(2, 'right', -0.4, 0.4, 0.2, 1, false),
    yAx(3, 'left', 0, 0.87, 0.2, 1, true, true),
    yAx(3, 'right', -0.0052, 0.0049, 0.004, 3, true),
    yAx(4, 'left', 0, 0.87, 0.2, 1, true, true),
    yAx(4, 'right', -7.7, 3.5, 2, 0, true, false, { rotate: 90, fontSize: 10, margin: 3 }),
  ];

  const sepLines = (extra: any[] = []) => ({
    silent: true, symbol: 'none', animation: false, label: { show: false },
    lineStyle: { type: 'solid' }, emphasis: { disabled: true },
    data: [
      ...sepDays.map((d, i) => ({ xAxis: T(d), lineStyle: { color: sepDark[i] ? '#555' : '#adadad', width: sepDark[i] ? 1 : 2.2, type: 'solid' } })),
      ...extra,
    ],
  });

  const barBase = { type: 'bar', barWidth: 2.6, itemStyle: { color: '#525252' }, silent: true, z: 2 };

  const series: any[] = [
    {
      name: 'slope k', type: 'line', xAxisIndex: 0, yAxisIndex: 1, data: lineData(slopeSegs),
      symbol: 'circle', symbolSize: 1.8, showSymbol: true, connectNulls: false,
      lineStyle: { color: '#9a9a9a', width: 1 }, itemStyle: { color: '#9a9a9a' }, z: 3,
    },
    {
      name: 'methanol flux', type: 'line', xAxisIndex: 0, yAxisIndex: 0, data: lineData(fluxSegs),
      symbol: 'circle', symbolSize: 3.2, showSymbol: true, connectNulls: false,
      lineStyle: { color: '#000', width: 1.3 }, itemStyle: { color: '#000' }, z: 4,
      markLine: sepLines(),
    },
    { ...barBase, name: 'r2 temp', xAxisIndex: 2, yAxisIndex: 2, data: barData(r2Temp), markLine: sepLines() },
    {
      ...barBase, name: 'residuals', xAxisIndex: 4, yAxisIndex: 4, data: barData(residuals),
      markLine: sepLines([{ yAxis: 0, lineStyle: { color: '#000', width: 1, type: 'solid' } }]),
    },
    { ...barBase, name: 'r2 PAR', xAxisIndex: 6, yAxisIndex: 6, data: barData(r2Par), markLine: sepLines() },
    {
      name: 'slope k PAR', type: 'line', xAxisIndex: 6, yAxisIndex: 7, data: lineData(slopePar),
      symbol: 'circle', symbolSize: 3, showSymbol: true, connectNulls: false,
      lineStyle: { color: '#8c8c8c', width: 1 }, itemStyle: { color: '#8c8c8c' }, z: 4,
    },
    { ...barBase, name: 'r2 fdir', xAxisIndex: 8, yAxisIndex: 8, data: barData(r2Fdir), markLine: sepLines() },
    {
      name: 'slope k fdir', type: 'line', xAxisIndex: 8, yAxisIndex: 9, data: lineData(slopeFdir),
      symbol: 'circle', symbolSize: 3, showSymbol: true, connectNulls: false,
      lineStyle: { color: '#8c8c8c', width: 1 }, itemStyle: { color: '#8c8c8c' }, z: 4,
    },
  ];

  const txt = (text: string, x: number, y: number, extra: any = {}, rotation = 0) => ({
    type: 'text', x, y, rotation, z: 100,
    style: { text, fontFamily: FONT, fontSize: 11, fill: '#111', align: 'left', verticalAlign: 'middle', ...extra },
  });

  const graphic: any[] = [
    txt('(a)', 2, 14, { fontSize: 12 }),
    txt('(b)', 2, 241, { fontSize: 12 }),
    txt('month / year', 400, 240, { align: 'center', fontSize: 11.5 }),
    txt('month / year', 400, 465, { align: 'center', fontSize: 11.5 }),
    // left axis titles
    txt('methanol flux\n(nmol m⁻² s⁻¹)', 28, 80, { align: 'center', lineHeight: 11.5 }, Math.PI / 2),
    txt('r²', 23, 168, { align: 'center' }, Math.PI / 2),
    txt('methanol flux\n(nmol m⁻² s⁻¹)', 17.5, 289, { align: 'center', lineHeight: 11.5 }, Math.PI / 2),
    txt('r²', 23, 362, { align: 'center' }, Math.PI / 2),
    // right axis titles
    txt('slope k\n(nmol m⁻² s⁻¹ °C⁻¹)', 781.5, 85, { align: 'center', lineHeight: 11.5 }, Math.PI / 2),
    txt('slope k\n(nmol µmol⁻¹)', 787, 342, { align: 'center', lineHeight: 9.5, fontSize: 10 }, Math.PI / 2),
    txt('slope k\n(nmol m⁻² s⁻¹)', 787, 411, { align: 'center', lineHeight: 9.5, fontSize: 10 }, Math.PI / 2),
    // legend (a)
    { type: 'line', z: 100, shape: { x1: 277, y1: 52, x2: 303, y2: 52 }, style: { stroke: '#000', lineWidth: 1.2 } },
    { type: 'circle', z: 101, shape: { cx: 290, cy: 52, r: 1.8 }, style: { fill: '#000' } },
    txt('methanol flux normalized to 15 °C', 306, 52),
    { type: 'line', z: 100, shape: { x1: 277, y1: 62.5, x2: 303, y2: 62.5 }, style: { stroke: '#9a9a9a', lineWidth: 1 } },
    { type: 'circle', z: 101, shape: { cx: 290, cy: 62.5, r: 1.2 }, style: { fill: '#9a9a9a' } },
    txt('slope k', 306, 62.5),
    // panel (b) labels and legend
    txt('Residuals', 293, 281),
    txt('PAR', 292, 336),
    { type: 'rect', z: 100, shape: { x: 340.4, y: 331, width: 1.3, height: 7 }, style: { fill: '#333' } },
    txt('r²', 355, 334.5),
    { type: 'line', z: 100, shape: { x1: 330, y1: 348, x2: 352, y2: 348 }, style: { stroke: '#8c8c8c', lineWidth: 1 } },
    { type: 'circle', z: 101, shape: { cx: 341, cy: 348, r: 1.5 }, style: { fill: '#8c8c8c' } },
    txt('slope k', 357, 348),
    txt('f', 292, 385, { fontSize: 12 }),
    txt('dir', 296.5, 389, { fontSize: 8 }),
  ];

  return {
    animation: false,
    backgroundColor: '#fff',
    textStyle: { fontFamily: FONT },
    grid, xAxis, yAxis, series, graphic,
  };
}

export default function App() {
  const ref = useRef<HTMLDivElement>(null);
  useEffect(() => {
    if (!ref.current) return;
    const chart = echarts.init(ref.current, null, { renderer: 'svg' });
    chart.setOption(buildOption() as any);
    return () => chart.dispose();
  }, []);
  return <div ref={ref} style={{ position: 'fixed', left: 0, top: 0, width: 800, height: 474, background: '#fff' }} />;
}
